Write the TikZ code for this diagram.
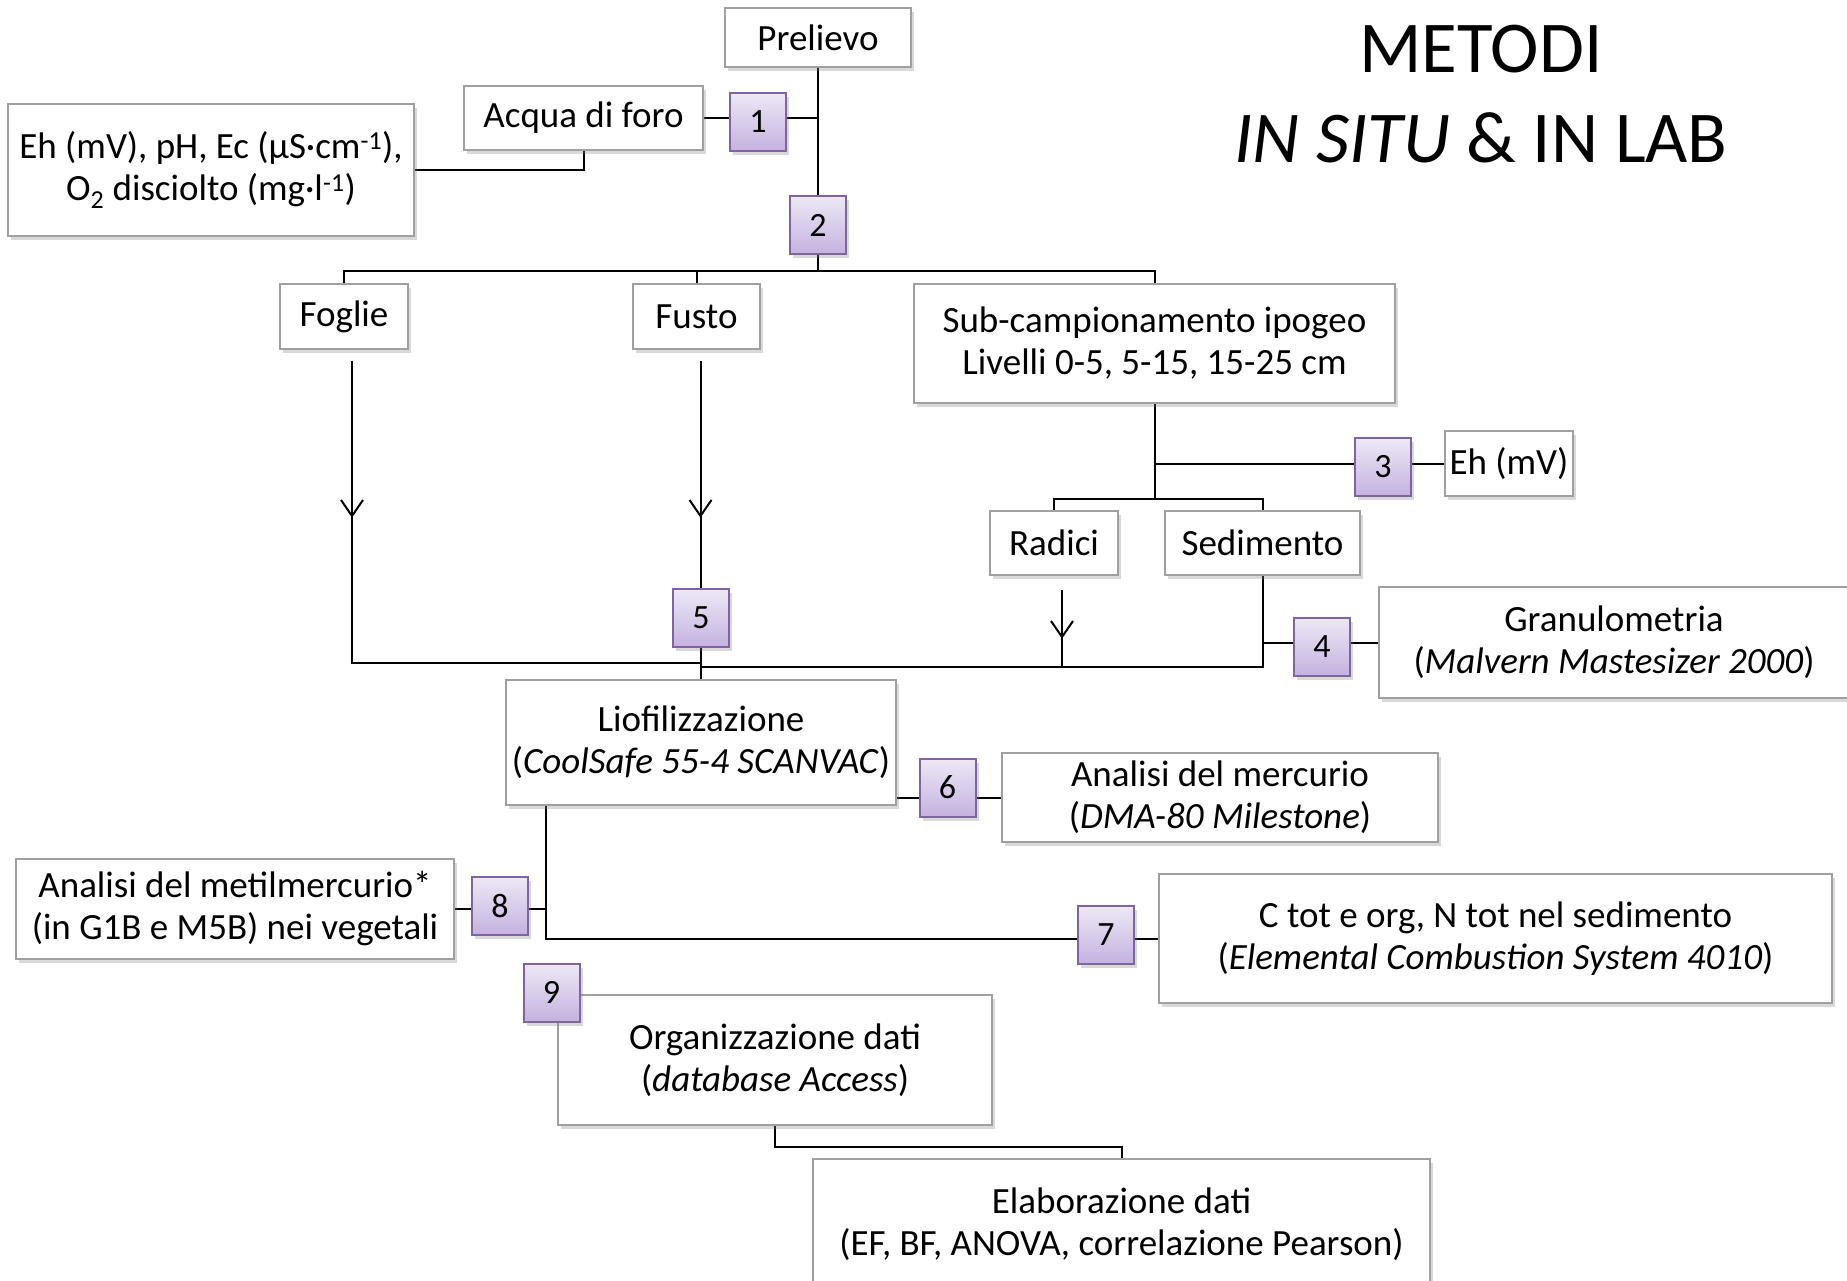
\documentclass[tikz,border=0pt]{standalone}
\usepackage{fontspec}
\setmainfont{Carlito}
\usetikzlibrary{arrows.meta,shadows}
\pgfdeclarelayer{bg}
\pgfsetlayers{bg,main}
\definecolor{numtop}{HTML}{EEE8F6}
\definecolor{numbot}{HTML}{C4B2DF}
\definecolor{numborder}{HTML}{8064A2}
\definecolor{boxborder}{HTML}{A0A0A0}

\begin{document}
\begin{tikzpicture}[x=1pt,y=-1pt]
				\tikzstyle{bnode}=[rectangle, draw=boxborder, line width=1.5pt, fill=white, align=center, inner sep=0pt, font=\fontsize{37}{42}\selectfont, drop shadow={shadow xshift=3pt, shadow yshift=-4pt, opacity=0.3}]
				\tikzstyle{nnode}=[rectangle, draw=numborder, line width=2pt, top color=numtop, bottom color=numbot, minimum width=56pt, minimum height=58pt, inner sep=0pt, font=\fontsize{34}{40}\selectfont, drop shadow={shadow xshift=3pt, shadow yshift=-4pt, opacity=0.3}]
				\tikzstyle{line}=[line width=2pt]
				\tikzstyle{arr}=[line, -{Straight Barb[length=16pt, width=22pt]}]
				\useasboundingbox (0,0) rectangle (1847,1280);
				\node[font=\fontsize{73}{90}\selectfont, align=center] (titolo) at (1481,94) {METODI\\\textit{IN SITU} \& IN LAB};
				\node[bnode, minimum width=186pt, minimum height=59pt] (prelievo) at (818,37.5) {Prelievo};
				\node[bnode, minimum width=239pt, minimum height=64pt] (acqua) at (583.5,118) {Acqua di foro};
				\node[bnode, minimum width=406pt, minimum height=132pt] (param) at (211,170) {Eh (mV), pH, Ec (µS·cm\textsuperscript{-1}),\\O\textsubscript{2} disciolto (mg·l\textsuperscript{-1})};
				\node[nnode] (n1) at (758,121.5) {1};
				\node[nnode] (n2) at (818,225) {2};
				\node[bnode, minimum width=128pt, minimum height=65pt] (foglie) at (344,316.5) {Foglie};
				\node[bnode, minimum width=127pt, minimum height=65pt] (fusto) at (696.5,316.5) {Fusto};
				\node[bnode, minimum width=481pt, minimum height=119pt] (sub) at (1154.5,343.5) {Sub-campionamento ipogeo\\Livelli 0-5, 5-15, 15-25 cm};
				\node[nnode] (n3) at (1383,467) {3};
				\node[bnode, minimum width=128pt, minimum height=65pt] (ehmv) at (1509,463.5) {Eh (mV)};
				\node[bnode, minimum width=128pt, minimum height=64pt] (radici) at (1054,543) {Radici};
				\node[bnode, minimum width=195pt, minimum height=64pt] (sedimento) at (1262.5,543) {Sedimento};
				\node[nnode] (n4) at (1322,646.5) {4};
				\node[bnode, minimum width=470pt, minimum height=111pt] (granulo) at (1614,642.5) {Granulometria\\(\textit{Malvern Mastesizer 2000})};
				\node[nnode] (n5) at (701,618) {5};
				\node[bnode, minimum width=390pt, minimum height=125pt] (lio) at (701,742.5) {Liofilizzazione\\(\textit{CoolSafe 55-4 SCANVAC})};
				\node[nnode] (n6) at (947.5,787.5) {6};
				\node[bnode, minimum width=436pt, minimum height=89pt] (merc) at (1220,797.5) {Analisi del mercurio\\(\textit{DMA-80 Milestone})};
				\node[nnode] (n7) at (1106,935) {7};
				\node[bnode, minimum width=673pt, minimum height=129pt] (ctot) at (1495.5,938.5) {C tot e org, N tot nel sedimento\\(\textit{Elemental Combustion System 4010})};
				\node[nnode] (n8) at (500,905.5) {8};
				\node[bnode, minimum width=438pt, minimum height=100pt] (metil) at (235,909) {Analisi del metilmercurio*\\(in G1B e M5B) nei vegetali};
				\node[bnode, minimum width=434pt, minimum height=130pt] (org) at (775,1060) {Organizzazione dati\\(\textit{database Access})};
				\node[nnode] (n9) at (551.5,992.5) {9};
				\node[bnode, minimum width=617pt, minimum height=130pt] (elab) at (1121.5,1224) {Elaborazione dati\\(EF, BF, ANOVA, correlazione Pearson)};
				\coordinate (fogliea) at ([xshift=8pt,yshift=-11pt]foglie.south);
				\coordinate (fustoa) at ([xshift=4pt,yshift=-11pt]fusto.south);
				\coordinate (radicia) at ([xshift=8pt,yshift=-14pt]radici.south);
				\coordinate (liob) at ([xshift=-155pt]lio.south);
				\begin{pgfonlayer}{bg}
				\draw[line] (prelievo.south) -- (n2.north);
				\draw[line] (acqua.east) -- (acqua.east -| prelievo.south);
				\draw[line] (acqua.south) |- (param.east);
				\draw[line] (n2.south) -- ++(0,16) coordinate (split);
				\draw[line] (foglie.north) |- (split) -| (sub.north);
				\draw[line] (fusto.north) -- (fusto.north |- split);
				\draw[arr] (fogliea) -- ++(0,157);
				\draw[line] (fogliea) |- ([yshift=-15pt]n5.south);
				\draw[arr] (fustoa) -- ++(0,157);
				\draw[line] (fustoa) -- (fustoa |- n5.north);
				\draw[line] (n5.south) -- (lio.north);
				\draw[line] ([yshift=-19pt]n5.south) -| (sedimento.south);
				\draw[arr] (radicia) -- ++(0,49);
				\draw[line] (radicia) -- ++(0,77);
				\draw[line] (sub.south) -- ++(0,95) coordinate (subsplit);
				\draw[line] (radici.north) |- (subsplit) -| (sedimento.north);
				\draw[line] (sub.south |- ehmv.west) -- (ehmv.west);
				\draw[line] (granulo.west -| sedimento.south) -- (granulo.west);
				\draw[line] (lio.east |- merc.west) -- (merc.west);
				\draw[line] (liob) |- (ctot.west);
				\draw[line] (metil.east) -- (metil.east -| liob);
				\draw[line] (org.south) -- ++(0,21) -| (elab.north);
				\end{pgfonlayer}
			\end{tikzpicture}
\end{document}
